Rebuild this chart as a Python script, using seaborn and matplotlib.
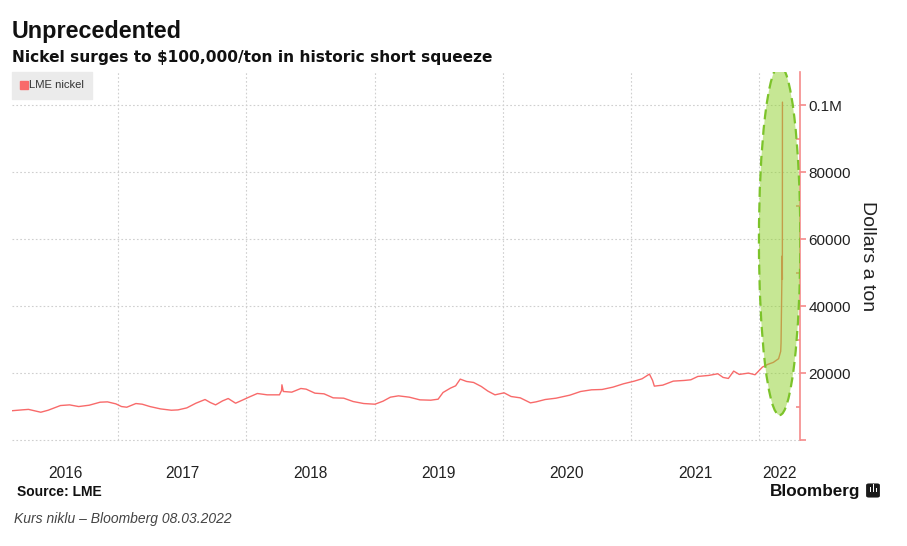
import numpy as np
import pandas as pd
import matplotlib
matplotlib.use("Agg")
import matplotlib.pyplot as plt
import matplotlib.dates as mdates
import matplotlib.ticker as mticker
from matplotlib.patches import Ellipse, FancyBboxPatch, Rectangle
from matplotlib.lines import Line2D
import seaborn as sns

# ---------------- data ----------------
dates = [
    "2016-03-04", "2016-04-01", "2016-04-20", "2016-05-25", "2016-06-15", "2016-07-20",
    "2016-08-15", "2016-09-10", "2016-10-10", "2016-11-10", "2016-12-01", "2016-12-25",
    "2017-01-10", "2017-01-25", "2017-02-20", "2017-03-10", "2017-04-01", "2017-05-01",
    "2017-06-01", "2017-06-20", "2017-07-15", "2017-08-10", "2017-09-05", "2017-09-20",
    "2017-10-05", "2017-10-25", "2017-11-10", "2017-12-01", "2017-12-20", "2018-01-10",
    "2018-02-01", "2018-03-01", "2018-04-05", "2018-04-11", "2018-04-12", "2018-04-16",
    "2018-05-10", "2018-06-05", "2018-06-20", "2018-07-15", "2018-08-10", "2018-09-05",
    "2018-10-05", "2018-11-01", "2018-12-01", "2019-01-02", "2019-01-25", "2019-02-15",
    "2019-03-10", "2019-04-10", "2019-05-10", "2019-06-10", "2019-07-01", "2019-07-15",
    "2019-08-05", "2019-08-20", "2019-09-02", "2019-09-20", "2019-10-10", "2019-11-01",
    "2019-11-20", "2019-12-10", "2020-01-05", "2020-01-25", "2020-02-20", "2020-03-20",
    "2020-04-05", "2020-05-01", "2020-06-01", "2020-07-10", "2020-08-10", "2020-09-10",
    "2020-10-10", "2020-11-10", "2020-12-10", "2021-01-10", "2021-02-01", "2021-02-22",
    "2021-03-03", "2021-03-08", "2021-04-01", "2021-05-01", "2021-06-01", "2021-06-20",
    "2021-07-10", "2021-08-10", "2021-09-05", "2021-09-20", "2021-10-05", "2021-10-20",
    "2021-11-05", "2021-12-01", "2021-12-20", "2022-01-10", "2022-01-25", "2022-02-10",
    "2022-02-25", "2022-03-03", "2022-03-04", "2022-03-07 06:00", "2022-03-07 18:00",
    "2022-03-08 00:00",
]
prices = [
    8750, 9000, 9150, 8300, 8900, 10300,
    10500, 10000, 10400, 11300, 11400, 10800,
    10000, 9800, 10900, 10700, 10000, 9300,
    8900, 9000, 9600, 11000, 12100, 11200,
    10500, 11700, 12400, 11000, 11900, 12900,
    13900, 13500, 13500, 14800, 16500, 14500,
    14300, 15400, 15200, 14000, 13800, 12600,
    12500, 11500, 10900, 10700, 11600, 12800,
    13200, 12800, 12000, 11900, 12200, 14200,
    15500, 16200, 18200, 17500, 17200, 16000,
    14600, 13500, 14100, 13000, 12600, 11100,
    11400, 12100, 12500, 13400, 14500, 15000,
    15100, 15800, 16800, 17600, 18300, 19700,
    17800, 16100, 16400, 17600, 17800, 18000,
    19000, 19300, 19800, 18700, 18400, 20600,
    19600, 20000, 19500, 21800, 22600, 23200,
    24300, 26500, 29000, 55000, 48000,
    101000,
]
series_name = "LME nickel"
year_labels = ["2016", "2017", "2018", "2019", "2020", "2021", "2022"]
y_ticks = [0, 20000, 40000, 60000, 80000, 100000]
y_tick_labels = ["", "20000", "40000", "60000", "80000", "0.1M"]

# ---------------- style ----------------
LINE_COLOR = "#f86a6a"
GRID_COLOR = "#cfcfcf"
X_MIN, X_MAX = pd.Timestamp("2016-03-04"), pd.Timestamp("2022-04-27")
Y_MAX = 110000

sns.set_theme(style="white")
plt.rcParams["font.family"] = ["Liberation Sans", "DejaVu Sans"]

df = pd.DataFrame({"date": pd.to_datetime(dates, format="mixed"), "price": prices})

fig = plt.figure(figsize=(9.07, 5.46), dpi=100)
W, H = 907, 546
ax = fig.add_axes([12 / W, 1 - 440 / H, (800 - 12) / W, (440 - 72) / H])

sns.lineplot(data=df, x="date", y="price", ax=ax, color=LINE_COLOR, lw=1.0,
             estimator=None, sort=False, zorder=2, legend=False)

ax.set_xlim(X_MIN, X_MAX)
ax.set_ylim(0, Y_MAX)

# ellipse highlight
cx = mdates.date2num(pd.Timestamp("2022-02-28"))
ell = Ellipse((cx, 59700), width=118, height=104500,
              facecolor=(0.56, 0.82, 0.17, 0.5), edgecolor="#7cc32a",
              lw=1.6, ls=(0, (4.5, 2.5)), zorder=3)
ax.add_patch(ell)

# spines
for s in ["left", "top", "bottom"]:
    ax.spines[s].set_visible(False)
ax.spines["right"].set_color("#f58a8a")
ax.spines["right"].set_linewidth(1.2)

# y axis on right
ax.yaxis.tick_right()
ax.yaxis.set_label_position("right")
ax.yaxis.set_major_locator(mticker.FixedLocator(y_ticks))
ax.yaxis.set_major_formatter(mticker.FixedFormatter(y_tick_labels))
ax.yaxis.set_minor_locator(mticker.FixedLocator([10000, 30000, 50000, 70000, 90000]))
ax.tick_params(axis="y", which="major", direction="out", length=4, width=1.2,
               color="#f58a8a", pad=2, labelsize=11, labelcolor="#222222",
               right=True, left=False)
ax.tick_params(axis="y", which="minor", direction="in", length=3, width=1.2,
               color="#f58a8a", right=True, left=False)
ax.set_ylabel("Dollars a ton", rotation=270, fontsize=14, color="#222222",
              labelpad=18)

# x axis: gridlines at year starts, labels centred in visible part of year
starts = [max(X_MIN, pd.Timestamp(f"{y}-01-01")) for y in year_labels]
ends = [min(X_MAX, pd.Timestamp(f"{int(y) + 1}-01-01")) for y in year_labels]
mids = [mdates.date2num(a) + (mdates.date2num(b) - mdates.date2num(a)) / 2
        for a, b in zip(starts, ends)]
ax.xaxis.set_major_locator(mdates.YearLocator())
ax.xaxis.set_major_formatter(mticker.NullFormatter())
ax.xaxis.set_minor_locator(mticker.FixedLocator(mids))
ax.xaxis.set_minor_formatter(mticker.FixedFormatter(year_labels))
ax.tick_params(axis="x", which="both", length=0, pad=19, labelsize=11.2,
               labelcolor="#222222")
ax.set_xlabel("")

ax.grid(True, which="major", axis="both", ls=(0, (1.5, 2)), color=GRID_COLOR, lw=0.8)
for gl in ax.get_ygridlines():
    gl.set_clip_on(False)
ax.set_axisbelow(True)

# legend
handle = Line2D([], [], marker="s", ls="none", color=LINE_COLOR, markersize=5.5)
leg = ax.legend([handle], [series_name], loc="upper left", bbox_to_anchor=(0, 1),
                borderaxespad=0, frameon=True, fancybox=False, facecolor="#ebebeb",
                edgecolor="#ebebeb", framealpha=1, fontsize=8.1,
                handletextpad=0.2, handlelength=0.55, borderpad=0.75)
for t in leg.get_texts():
    t.set_color("#333333")

# titles and notes
fig.text(12 / W, 1 - 38 / H, "Unprecedented", fontsize=16.8, fontweight="bold",
         color="#111111", ha="left", va="baseline")
fig.text(12 / W, 1 - 62 / H, "Nickel surges to $100,000/ton in historic short squeeze",
         fontsize=11.1, fontweight="bold", color="#111111", ha="left", va="baseline",
         family=["DejaVu Sans"])
fig.text(17 / W, 1 - 496 / H, "Source: LME", fontsize=10, fontweight="bold",
         color="#111111", ha="left", va="baseline")
fig.text(860 / W, 1 - 496 / H, "Bloomberg", fontsize=12.3, fontweight="bold",
         color="#111111", ha="right", va="baseline")
fig.text(14 / W, 1 - 523 / H, "Kurs niklu – Bloomberg 08.03.2022", fontsize=10,
         fontstyle="italic", color="#444444", ha="left", va="baseline")

# Bloomberg icon
icon = FancyBboxPatch((867 / W, 1 - 497 / H), 12 / W, 13 / H,
                      boxstyle="round,pad=0.001,rounding_size=0.003",
                      transform=fig.transFigure, facecolor="#1a1a1a",
                      edgecolor="none")
fig.patches.append(icon)
for bx, bh in [(869.5, 5), (872.5, 8), (875.5, 4)]:
    fig.patches.append(Rectangle((bx / W, 1 - 492 / H), 1.5 / W, bh / H,
                                 transform=fig.transFigure, facecolor="white",
                                 edgecolor="none"))

fig.savefig("out.png", dpi=100)
